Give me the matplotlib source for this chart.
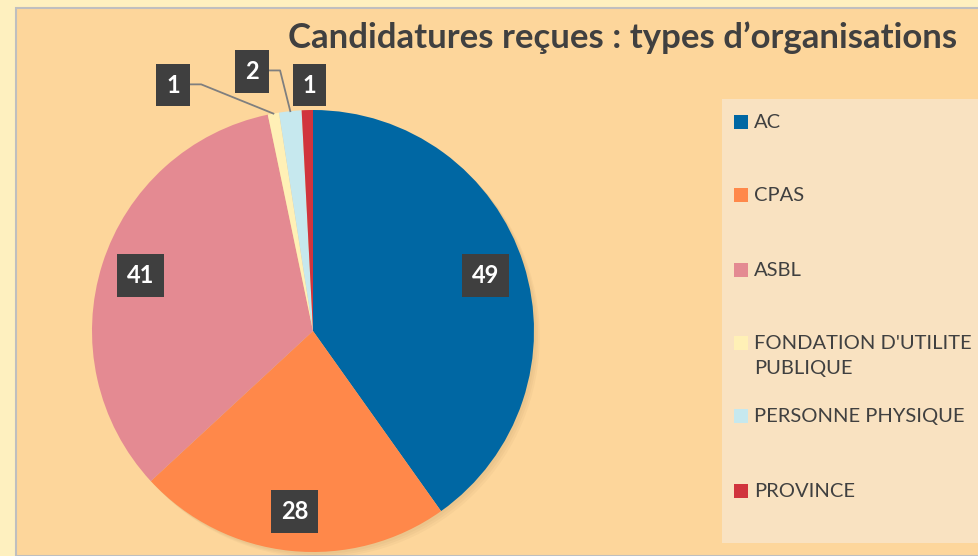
import matplotlib.pyplot as plt
from matplotlib.patches import Rectangle
import numpy as np

categories = ['AC', 'CPAS', 'ASBL', "FONDATION D'UTILITE\nPUBLIQUE",
              'PERSONNE PHYSIQUE', 'PROVINCE']
values = [49, 28, 41, 1, 2, 1]
colors = ['#0067A3', '#FF884A', '#E48A92', '#FFF0B6', '#C6E8EE', '#D1343D']
title = 'Candidatures reçues : types d’organisations'

W, H = 979, 556
fig = plt.figure(figsize=(W / 100, H / 100), dpi=100)
fig.patch.set_facecolor('#FEF0BF')

# chart area with grey border
fig.patches.append(Rectangle((16 / W, 0), 1, 1 - 8 / H, transform=fig.transFigure,
                             fc='#FDD69B', ec='#BFBFBF', lw=1.5, zorder=0))

# pie: centre (313, 331) px, radius 221 px
r = 221
ax = fig.add_axes([(313 - r) / W, (H - 331 - r) / H, 2 * r / W, 2 * r / H])
ax.set_zorder(3)
# soft shadow under the pie
for k in range(3):
    ax.add_patch(plt.Circle((0.01 + 0.008 * k, -0.01 - 0.008 * k), 1.0, fc='#8A6A3A',
                            ec='none', alpha=0.05, zorder=0, clip_on=False))
wedges, _ = ax.pie(values, colors=colors, startangle=90, counterclock=False,
                   radius=1, center=(0, 0), frame=True,
                   wedgeprops=dict(linewidth=0, zorder=1))
ax.set_xlim(-1, 1)
ax.set_ylim(-1, 1)
ax.axis('off')

font = 'Lato'
box = dict(boxstyle='square,pad=0.42', fc='#3F3F3F', ec='none')

# big slices: label inside at mid angle
for w, v in zip(wedges[:3], values[:3]):
    mid = np.deg2rad((w.theta1 + w.theta2) / 2)
    ax.text(0.82 * np.cos(mid), 0.82 * np.sin(mid), str(v), ha='center', va='center',
            color='white', fontsize=17, fontweight='bold', family=font, bbox=box,
            zorder=5)

# small slices: labels above, with leader lines
small_pos = [(-0.633, 1.113), (-0.276, 1.176), (-0.016, 1.113)]
for i, (w, v, (tx, ty)) in enumerate(zip(wedges[3:], values[3:], small_pos)):
    ax.text(tx, ty, str(v), ha='center', va='center', color='white', fontsize=17,
            fontweight='bold', family=font, bbox=box, clip_on=False, zorder=5)
    if i < 2:
        mid = np.deg2rad((w.theta1 + w.theta2) / 2)
        ex, ey = np.cos(mid), np.sin(mid)
        x0 = tx + 0.072
        ax.plot([x0, x0 + 0.055, ex], [ty + 0.003, ty + 0.003, ey], color='#7F7F7F',
                lw=1.3, clip_on=False, zorder=4)

fig.text(623 / W, 1 - 38 / H, title, ha='center', va='center', fontsize=25,
         fontweight='bold', color='#404040', family=font)

# legend panel
fig.patches.append(Rectangle((722 / W, 1 - 543 / H), 1, (543 - 99) / H,
                             transform=fig.transFigure, fc='#F9E2C1', ec='none', zorder=1))
ys = [122, 195, 270, 343, 416, 491]
for lab, c, y in zip(categories, colors, ys):
    fig.patches.append(Rectangle((734 / W, 1 - (y + 7) / H), 14 / W, 14 / H,
                                 transform=fig.transFigure, fc=c, ec='none', zorder=2))
    fig.text(754 / W, 1 - (y - 8) / H, lab, ha='left', va='top', fontsize=14.5,
             color='#404040', family=font, linespacing=1.6, zorder=3)

fig.savefig('out.png', dpi=100, facecolor=fig.get_facecolor())
